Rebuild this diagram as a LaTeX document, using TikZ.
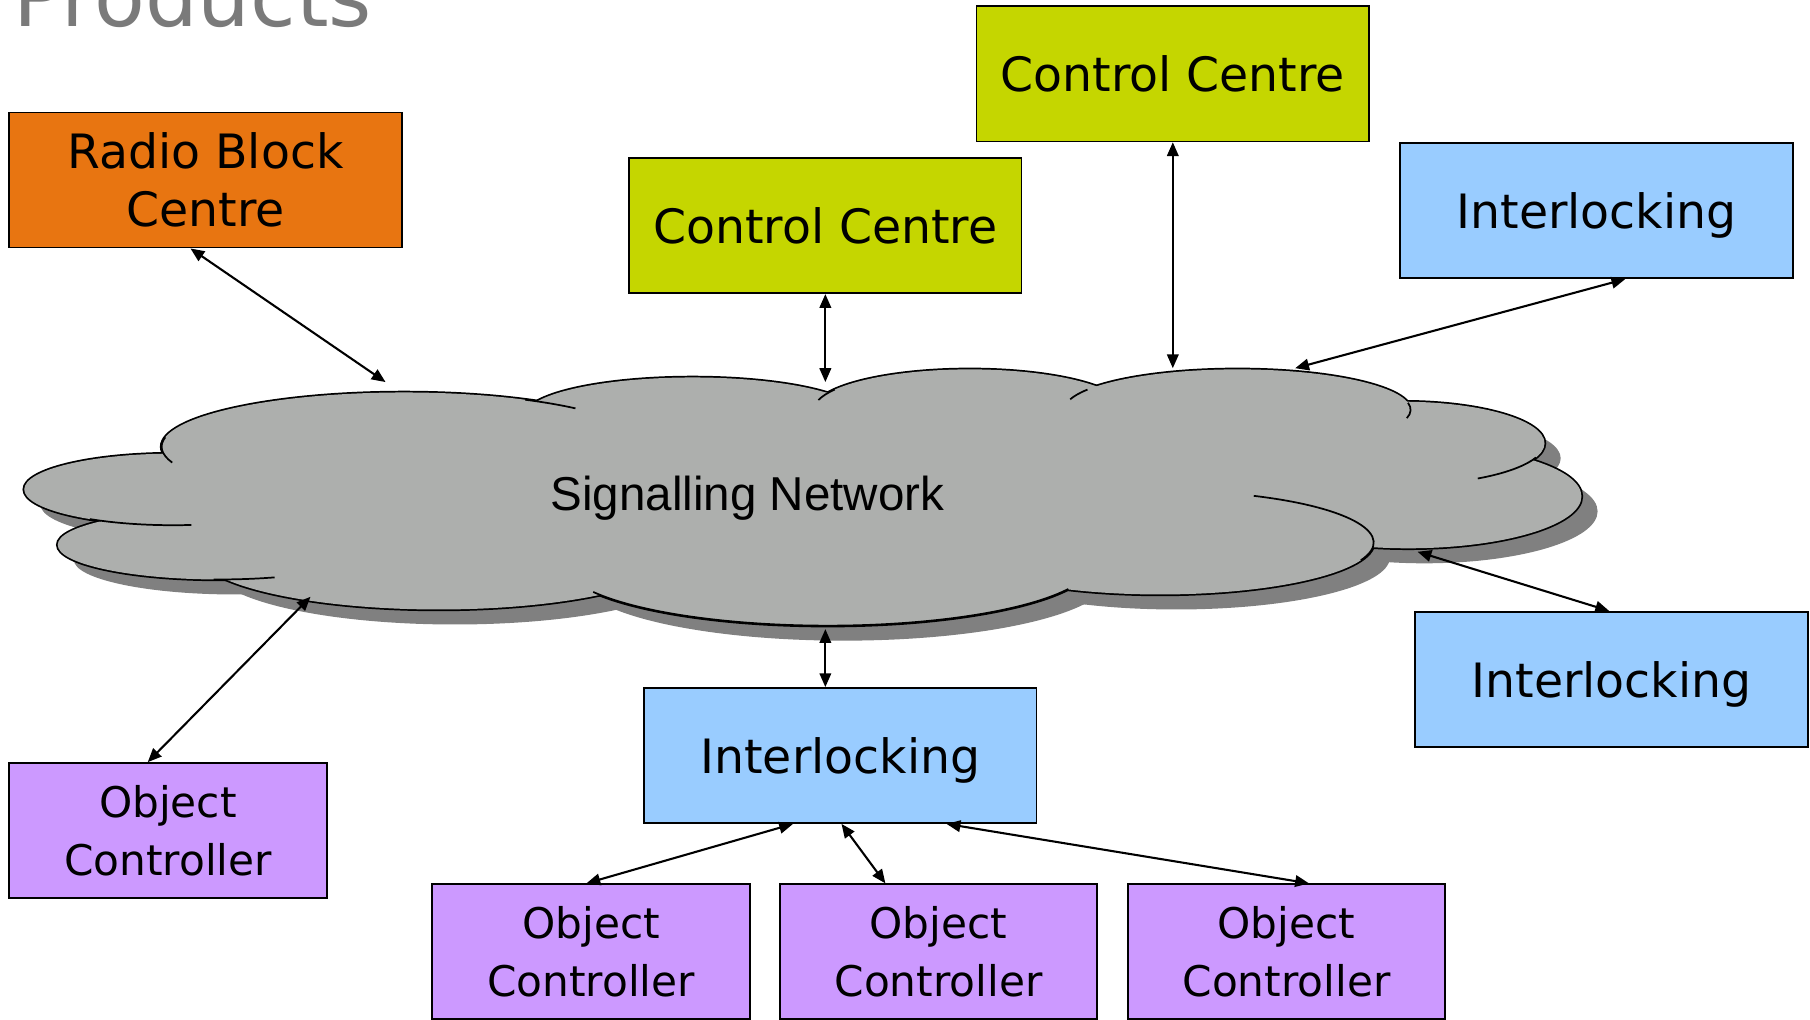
\documentclass[tikz,border=0pt]{standalone}
\usepackage{fontspec}
\setmainfont{DejaVu Sans}
\newfontfamily\netfont{Liberation Sans}
\usetikzlibrary{arrows.meta,calc}
\definecolor{rbcorange}{HTML}{E87511}
\definecolor{ccgreen}{HTML}{C5D600}
\definecolor{ilblue}{HTML}{99CCFF}
\definecolor{ocpurple}{HTML}{CC99FF}
\definecolor{cloudgray}{HTML}{ADAFAD}
\definecolor{shadowgray}{HTML}{808080}
\definecolor{titlegray}{HTML}{7A7A7A}
\def\cloudlist{150/459/129/31, 190/411/140/30, 350/496/210/47, 380/405/210/50, 717/396/230/55, 1005/413/185/45, 1220/453/150/45, 1215/499/123/36, 1072/528/150/35, 840/528/135/35, 600/523/145/33}
\def\stublist{150/459/129/31/236/277, 190/411/140/30/268/290, 350/496/210/47/60/45, 350/496/210/47/170/197, 717/396/230/55/208/335, 1005/413/185/45/64/-20, 1215/499/123/36/-20/-58, 1072/528/150/35/10/-12, 1072/528/150/35/150/165, 840/528/135/35/150/166}
\begin{document}
\begin{tikzpicture}[x=0.5pt,y=0.5pt,
  box/.style={draw=black, line width=0.75pt, inner sep=0pt, align=center, minimum width=170pt, minimum height=58.5pt, font=\fontsize{20.5}{25}\selectfont},
  ilbox/.style={box, fill=ilblue, text depth=0pt},
  ocbox/.style={box, fill=ocpurple, minimum width=137.5pt, font=\fontsize{18.3}{25}\selectfont},
  conn/.style={line width=0.9pt, {Triangle[length=6pt,width=5pt]}-{Triangle[length=6pt,width=5pt]}},
  cloudline/.style={line width=0.75pt, black}]
\fill[white] (0,0) rectangle (1568,883);
\useasboundingbox (0,0) rectangle (1568,883);
% title
\node[anchor=base west, inner sep=0pt, text=titlegray, font=\fontsize{36}{40}\selectfont] (title) at (11,860) {Products};
% cloud shadow
\begin{scope}[shift={(14,-13)}]
  \foreach \cx/\cy/\rx/\ry in \cloudlist {\fill[shadowgray] (\cx,\cy) ellipse [x radius=\rx, y radius=\ry];}
  \fill[shadowgray] (700,453) ellipse [x radius=500, y radius=90];
\end{scope}
% cloud outline (outer half of thick stroke)
\foreach \cx/\cy/\rx/\ry in \cloudlist {\draw[black, line width=1.5pt] (\cx,\cy) ellipse [x radius=\rx, y radius=\ry];}
% cloud fill
\foreach \cx/\cy/\rx/\ry in \cloudlist {\fill[cloudgray] (\cx,\cy) ellipse [x radius=\rx, y radius=\ry];}
\fill[cloudgray] (700,453) ellipse [x radius=500, y radius=90];
% inner stubs
\foreach \cx/\cy/\rx/\ry/\a/\b in \stublist {\draw[cloudline] (\cx,\cy) ++({\rx*cos(\a)},{\ry*sin(\a)}) arc [start angle=\a, end angle=\b, x radius=\rx, y radius=\ry];}
\node[anchor=base, inner sep=0pt, font=\netfont\fontsize{20.6}{24}\selectfont] (net) at (647.5,441) {Signalling Network};
% cloud connection points
\coordinate (crbc) at (334,552);
\coordinate (ccc1) at (715,552);
\coordinate (ccc2) at (1016,564);
\coordinate (cil1) at (1122,564);
\coordinate (cil2) at (1228,405);
\coordinate (cil3) at (715,338);
\coordinate (cocl) at (269,366);
% boxes
\node[box, fill=rbcorange] (rbc) at (178,727) {Radio Block\\Centre};
\node[box, fill=ccgreen] (cc1) at (715,687.5) {Control Centre};
\node[box, fill=ccgreen] (cc2) at (1016,819) {Control Centre};
\node[ilbox] (ilt) at (1383,700.5) {Interlocking};
\node[ilbox] (ilr) at (1396,294.5) {Interlocking};
\node[ilbox] (ilb) at (728,228.5) {Interlocking};
\node[ocbox] (ocl) at (145.5,163.5) {Object\\Controller};
\node[ocbox] (oc1) at (512,58.5) {Object\\Controller};
\node[ocbox] (oc2) at (813,58.5) {Object\\Controller};
\node[ocbox] (oc3) at (1114.5,58.5) {Object\\Controller};
% connectors
\draw[conn] ($(rbc.south)+(-13,0)$) -- (crbc);
\draw[conn] (cc1.south) -- (ccc1);
\draw[conn] (cc2.south) -- (ccc2);
\draw[conn] ($(ilt.south)+(25,0)$) -- (cil1);
\draw[conn] ($(ilr.north)+(-2,0)$) -- (cil2);
\draw[conn] ($(ilb.north)+(-13,0)$) -- (cil3);
\draw[conn] ($(ocl.north)+(-17.5,0)$) -- (cocl);
\draw[conn] ($(ilb.south)+(-41,0)$) -- ($(oc1.north)+(-4,0)$);
\draw[conn] ($(ilb.south)+(1,0)$) -- ($(oc2.north)+(-46,0)$);
\draw[conn] ($(ilb.south)+(92,0)$) -- ($(oc3.north)+(19.5,0)$);
\end{tikzpicture}
\end{document}
